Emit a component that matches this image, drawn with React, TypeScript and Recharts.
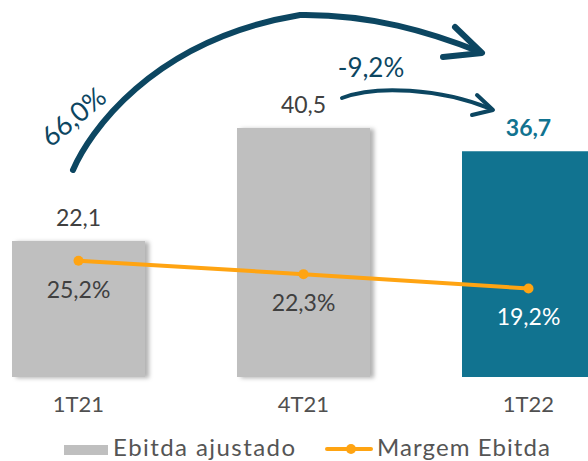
import React from "react"
import {
  ComposedChart,
  Bar,
  Line,
  XAxis,
  YAxis,
  Cell,
  LabelList,
  Customized,
} from "recharts"

const quarters = ["1T21", "4T21", "1T22"]
const ebitdaAjustado = [22.1, 40.5, 36.7]
const margemEbitda = [25.2, 22.3, 19.2]
const ebitdaLabels = ["22,1", "40,5", "36,7"]
const margemLabels = ["25,2%", "22,3%", "19,2%"]
const seriesNames = ["Ebitda ajustado", "Margem Ebitda"]

const data = quarters.map((q, i) => ({
  quarter: q,
  ebitda: ebitdaAjustado[i],
  margem: margemEbitda[i],
}))

const GRAY = "#bfbfbf"
const TEAL = "#117390"
const NAVY = "#0c4661"
const ORANGE = "#ffa412"
const TEXT = "#404040"
const FONT = "Lato, 'Open Sans', sans-serif"

function BarValueLabel(props: any) {
  const { x, y, width, index } = props
  const last = index === quarters.length - 1
  return (
    <text
      x={x + width / 2}
      y={y - 15}
      textAnchor="middle"
      fontSize={23}
      fontWeight={last ? 700 : 400}
      fill={last ? TEAL : TEXT}
      fontFamily={FONT}
    >
      {ebitdaLabels[index]}
    </text>
  )
}

function LineValueLabel(props: any) {
  const { x, y, index } = props
  const last = index === quarters.length - 1
  return (
    <text
      x={x}
      y={y + 37}
      textAnchor="middle"
      fontSize={23}
      fill={last ? "#ffffff" : TEXT}
      fontFamily={FONT}
    >
      {margemLabels[index]}
    </text>
  )
}

function QuarterTick(props: any) {
  const { x, y, payload } = props
  return (
    <text x={x} y={y + 35} textAnchor="middle" fontSize={22} fill="#505050" fontFamily={FONT}>
      {payload.value}
    </text>
  )
}

// growth arrows drawn on top of the chart (page coords, shifted by the -34 offset)
function GrowthArrows() {
  const dx = 34
  return (
    <g transform={`translate(${dx},0)`} fill="none" stroke={NAVY} strokeLinecap="round" strokeLinejoin="round">
      <path d="M 73 170 C 88 135, 150 40, 300 15 C 370 14, 430 32, 480 52" strokeWidth={6} />
      <path d="M 455 27 L 482 53 L 443 57" strokeWidth={6} />
      <path d="M 342 98 C 375 85, 440 88, 491 109" strokeWidth={4} />
      <path d="M 477 95 L 493 110 L 472 115" strokeWidth={4} />
      <text
        x={73}
        y={116}
        transform="rotate(-40 73 116)"
        textAnchor="middle"
        dominantBaseline="central"
        fontSize={27}
        fill={NAVY}
        stroke="none"
        fontFamily={FONT}
      >
        66,0%
      </text>
      <text
        x={371}
        y={77}
        textAnchor="middle"
        fontSize={26}
        fill={NAVY}
        stroke="none"
        fontFamily={FONT}
      >
        -9,2%
      </text>
    </g>
  )
}

function LegendRow() {
  return (
    <svg
      width={588}
      height={40}
      style={{ position: "absolute", left: 0, top: 421 }}
      fontFamily={FONT}
    >
      <rect x={64} y={24} width={44} height={10} fill={GRAY} />
      <text x={113} y={35} fontSize={24} fill="#555555" textLength={182} lengthAdjust="spacing">
        {seriesNames[0]}
      </text>
      <line x1={327} y1={28} x2={371} y2={28} stroke={ORANGE} strokeWidth={4} strokeLinecap="round" />
      <circle cx={351} cy={28} r={5} fill={ORANGE} />
      <text x={377} y={35} fontSize={24} fill="#555555" textLength={173} lengthAdjust="spacing">
        {seriesNames[1]}
      </text>
    </svg>
  )
}

export default function App() {
  return (
    <div
      style={{
        position: "absolute",
        top: 0,
        left: 0,
        width: 588,
        height: 461,
        overflow: "hidden",
        background: "#ffffff",
        fontFamily: FONT,
      }}
    >
      <div style={{ marginLeft: -34 }}>
        <ComposedChart
          width={700}
          height={461}
          data={data}
          margin={{ top: 8, right: 25, bottom: 44, left: 0 }}
        >
          <defs>
            <filter id="barShadow" x="-10%" y="-10%" width="130%" height="130%">
              <feDropShadow dx={4} dy={1} stdDeviation={2} floodColor="#000" floodOpacity={0.3} />
            </filter>
          </defs>
          <XAxis
            dataKey="quarter"
            axisLine={false}
            tickLine={false}
            tickSize={0}
            tickMargin={0}
            height={40}
            tick={<QuarterTick />}
          />
          <YAxis yAxisId="left" hide domain={[0, 60]} />
          <YAxis yAxisId="right" orientation="right" hide domain={[0, 80]} />
          <Bar yAxisId="left" dataKey="ebitda" barSize={133} isAnimationActive={false}>
            {data.map((d, i) => (
              <Cell
                key={d.quarter}
                fill={i === quarters.length - 1 ? TEAL : GRAY}
                filter={i === quarters.length - 1 ? undefined : "url(#barShadow)"}
              />
            ))}
            <LabelList dataKey="ebitda" content={<BarValueLabel />} />
          </Bar>
          <Line
            yAxisId="right"
            dataKey="margem"
            type="linear"
            stroke={ORANGE}
            strokeWidth={4}
            dot={{ r: 5, fill: ORANGE, stroke: ORANGE, strokeWidth: 0 }}
            isAnimationActive={false}
          >
            <LabelList dataKey="margem" content={<LineValueLabel />} />
          </Line>
          <Customized component={<GrowthArrows />} />
        </ComposedChart>
      </div>
      <LegendRow />
    </div>
  )
}
